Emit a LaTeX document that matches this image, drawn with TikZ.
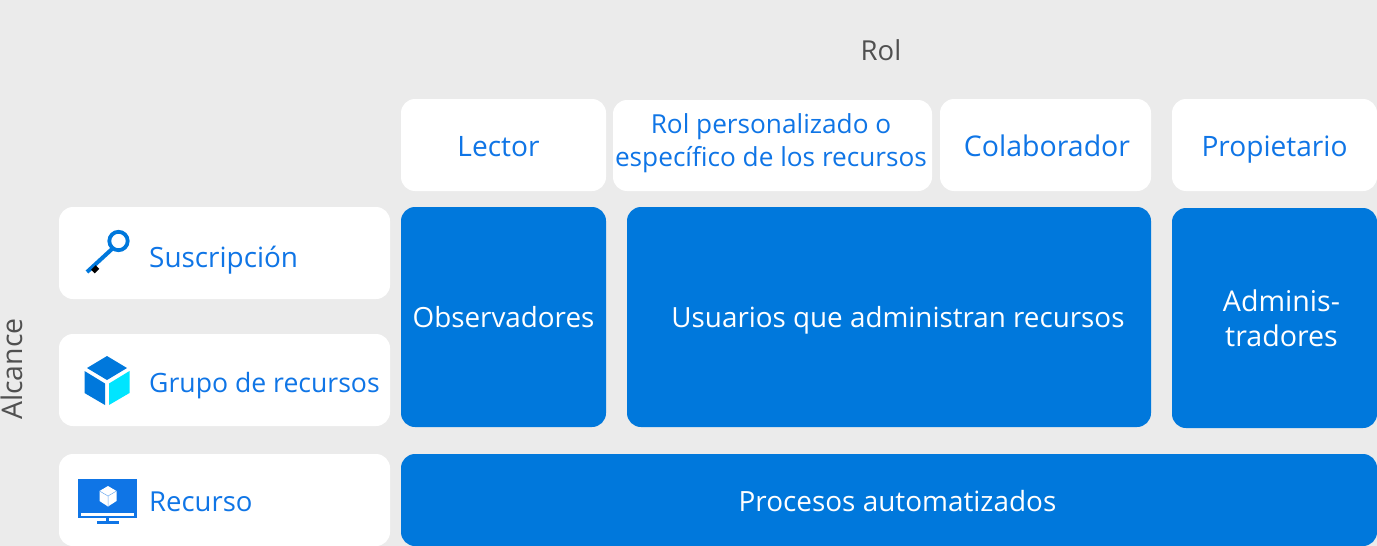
\documentclass[tikz,border=0pt]{standalone}
\usepackage{fontspec}
\setmainfont{Open Sans}
\definecolor{bgc}{HTML}{EBEBEB}
\definecolor{azblue}{HTML}{0078DC}
\definecolor{txtblue}{HTML}{0F75E6}
\definecolor{cyanc}{HTML}{00E5FF}
\definecolor{greyc}{HTML}{505050}
\newcommand{\fsz}[2][33]{\fontsize{#2}{#1}\selectfont}
\tikzset{
  x=1pt,y=-1pt,
  card/.style={fill=white,rounded corners=14pt},
  blue card/.style={fill=azblue,rounded corners=14pt},
  tb/.style={text=txtblue,inner sep=0pt,align=center,anchor=base},
  tw/.style={text=white,inner sep=0pt,align=center,anchor=base},
  tg/.style={text=greyc,inner sep=0pt,anchor=base},
}
\begin{document}
\begin{tikzpicture}
\fill[bgc] (0,0) rectangle (1377,546);
\useasboundingbox (0,0) rectangle (1377,546);
% cards
\path[card] (401,99) rectangle (606,191);
\path[card] (613,100) rectangle (932,191);
\path[card] (940,99) rectangle (1151,191);
\path[card] (1172,99) rectangle (1377,191);
\path[card] (59,207) rectangle (390,299);
\path[card] (59,334) rectangle (390,426);
\path[card] (59,454) rectangle (390,546);
\path[blue card] (401,207) rectangle (606,427);
\path[blue card] (627,207) rectangle (1151,427);
\path[blue card] (1172,208) rectangle (1377,428);
\path[blue card] (401,454) rectangle (1377,546);
% labels
\node[tg,font=\fsz{27.5}] (rol) at (881,60) {Rol};
\node[tg,rotate=90,font=\fsz{28.4}] (alcance) at (22.5,369) {Alcance};
\node[tb,font=\fsz{28.1}] (lector) at (498.5,156) {Lector};
\node[tb,anchor=center,font=\fsz{26.2}] (custom) at (771,143) {Rol personalizado o\\específico de los recursos};
\node[tb,font=\fsz{28.5}] (colab) at (1047,156) {Colaborador};
\node[tb,font=\fsz{28.1}] (prop) at (1274.5,156) {Propietario};
\node[tb,anchor=base west,font=\fsz{27.9}] (sus) at (149,267) {Suscripción};
\node[tb,anchor=base west,font=\fsz{26.6}] (grupo) at (149,392) {Grupo de recursos};
\node[tb,anchor=base west,font=\fsz{27.5}] (rec) at (149,511) {Recurso};
\node[tw,font=\fsz{27.8}] (obs) at (503.5,327) {Observadores};
\node[tw,font=\fsz{27.8}] (usu) at (898,327) {Usuarios que administran recursos};
\node[tw,anchor=center,font={\fsz[35]{28.6}}] (adm) at (1281.5,318) {Adminis-\\tradores};
\node[tw,font=\fsz{27.9}] (proc) at (897.5,511) {Procesos automatizados};
% key icon
\draw[azblue,line width=3.8pt] (118.5,241) circle (9.2);
\draw[azblue,line width=4pt] (112,249) -- (87,272);
\draw[black,line width=5pt] (93,271.5) -- (97.5,267);
% cube icon
\fill[azblue] (107,356) -- (127,368) -- (107,380) -- (87,368) -- cycle;
\fill[azblue] (84.5,371) -- (105,383.5) -- (105,405) -- (84.5,393) -- cycle;
\fill[cyanc] (109,383.5) -- (129.5,371) -- (129.5,393) -- (109,405) -- cycle;
% monitor icon
\fill[txtblue] (78,479) rectangle (137,518);
\fill[white] (81,513) rectangle (134,516);
\fill[txtblue] (105.5,518) rectangle (109,522);
\fill[txtblue] (96.5,521) rectangle (118.5,524);
\fill[white] (108,486) -- (116.5,491) -- (116.5,501) -- (108,506.5) -- (99.5,501) -- (99.5,491) -- cycle;
\draw[txtblue!60,line width=.5pt] (99.5,491) -- (108,496) -- (116.5,491) (108,496) -- (108,506.5);
\end{tikzpicture}
\end{document}
